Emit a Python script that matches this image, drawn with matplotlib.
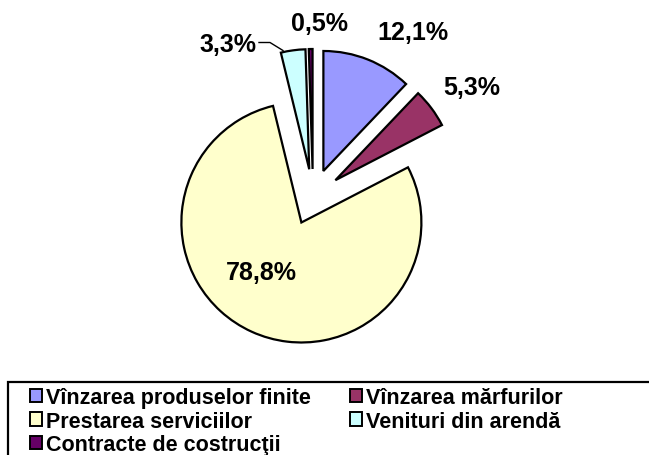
import matplotlib
matplotlib.use("Agg")
import matplotlib.pyplot as plt
from matplotlib.patches import Rectangle, Patch

categories = ["Vînzarea produselor finite", "Vînzarea mărfurilor", "Prestarea serviciilor",
              "Venituri din arendă", "Contracte de costrucţii"]
values = [12.1, 5.3, 78.8, 3.3, 0.5]
labels = ["12,1%", "5,3%", "78,8%", "3,3%", "0,5%"]
colors = ["#9999FF", "#993366", "#FFFFCC", "#CCFFFF", "#660066"]

W, H = 649, 456
plt.rcParams['font.family'] = ['Liberation Sans', 'DejaVu Sans']
fig = plt.figure(figsize=(W / 100, H / 100), dpi=100)
ax = fig.add_axes([0, 0, 1, 1])

cx, cy, r = 313, H - 198, 120
wedges, _ = ax.pie(values, colors=colors, startangle=90, counterclock=False,
                   center=(cx, cy), radius=r, explode=[28] * len(values),
                   wedgeprops=dict(edgecolor="black", linewidth=1.6))
ax.set_xlim(0, W)
ax.set_ylim(0, H)
ax.set_aspect('equal')
ax.set_axis_off()

# label positions in pixel coords (from top-left)
label_pos = [(412.5, 32.5), (471.7, 88.3), (261.7, 273.3), (227.5, 45), (319, 23.5)]
for lab, (px, py) in zip(labels, label_pos):
    ax.text(px, H - py, lab, ha='center', va='center', fontsize=18, fontweight='bold')

# leader line for 3,3%
ax.plot([259, 270, 283], [H - 43.5, H - 43.5, H - 51.5], color='black', lw=1.0)

# legend frame (extends beyond figure edges)
fig.patches.append(Rectangle((8.3 / W, -0.1), 1.2, (H - 383) / H + 0.1,
                             transform=fig.transFigure, fill=False,
                             edgecolor='black', linewidth=1.6))

order = [0, 2, 4, 1, 3]
handles = [Patch(facecolor=colors[i], edgecolor='black', linewidth=1.4) for i in order]
leg = fig.legend(handles, [categories[i] for i in order], ncol=2,
                 loc='upper left', bbox_to_anchor=(30 / W, 1 - 388.5 / H),
                 frameon=False, borderpad=0, borderaxespad=0,
                 prop=dict(size=15.5, weight='bold'),
                 handlelength=0.56, handleheight=0.56, handletextpad=0.2,
                 columnspacing=1.8, labelspacing=0.1)

fig.savefig("out.png", dpi=100)
